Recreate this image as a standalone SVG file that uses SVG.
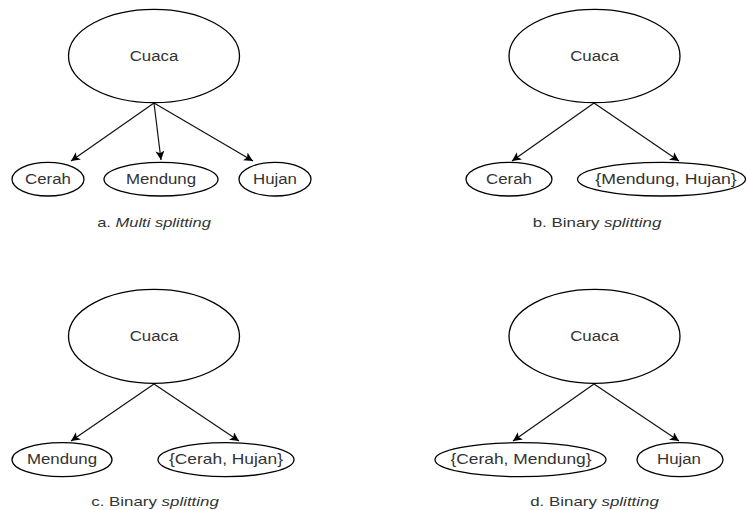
<svg xmlns="http://www.w3.org/2000/svg" width="746" height="510" viewBox="0 0 746 510">
  <defs>
    <marker id="arrow" viewBox="0 0 10 10" refX="10" refY="5" markerWidth="10" markerHeight="9" markerUnits="userSpaceOnUse" orient="auto">
      <path d="M0,0 L10,5 L0,10 L2.5,5 Z" fill="#000"/>
    </marker>
  </defs>
  <style>
    .node ellipse { fill: #fff; stroke: #000; stroke-width: 1.3; }
    .lbl { font-family: "Liberation Sans", Arial, sans-serif; font-size: 13.8px; fill: #333; text-anchor: middle; }
    .cap { font-family: "Liberation Sans", Arial, sans-serif; font-size: 13px; fill: #333; text-anchor: middle; }
    .it { font-style: italic; }
    .edges line { stroke: #111; stroke-width: 1.2; marker-end: url(#arrow); }
  </style>
  <rect width="746" height="510" fill="#fff"/>

  <!-- connectors -->
  <g class="edges" id="connectors">
    <line x1="154" y1="103" x2="71" y2="161"/>
    <line x1="154" y1="103" x2="161" y2="160"/>
    <line x1="154" y1="103" x2="253" y2="161"/>
    <line x1="594" y1="103" x2="512" y2="161"/>
    <line x1="594" y1="103" x2="679" y2="161"/>
    <line x1="154" y1="384" x2="71" y2="441"/>
    <line x1="154" y1="384" x2="239" y2="441"/>
    <line x1="594" y1="384" x2="513" y2="441"/>
    <line x1="594" y1="384" x2="679" y2="441"/>
  </g>

  <!-- a. multi splitting -->
  <g class="node" id="a-cuaca">
    <ellipse cx="154" cy="56" rx="85.5" ry="46.7"/>
    <text class="lbl" transform="matrix(1.22,0,0,1,154,60.5)">Cuaca</text>
  </g>
  <g class="node" id="a-cerah">
    <ellipse cx="48" cy="179.2" rx="36" ry="16.8"/>
    <text class="lbl" transform="matrix(1.22,0,0,1,48,184)">Cerah</text>
  </g>
  <g class="node" id="a-mendung">
    <ellipse cx="161" cy="179.2" rx="57" ry="16.8"/>
    <text class="lbl" transform="matrix(1.22,0,0,1,161,184)">Mendung</text>
  </g>
  <g class="node" id="a-hujan">
    <ellipse cx="275" cy="179.2" rx="36" ry="16.8"/>
    <text class="lbl" transform="matrix(1.22,0,0,1,275,184)">Hujan</text>
  </g>
  <text class="cap" transform="matrix(1.27,0,0,1,154,226.5)">a. <tspan class="it">Multi splitting</tspan></text>

  <!-- b. binary splitting -->
  <g class="node" id="b-cuaca">
    <ellipse cx="594.5" cy="56" rx="85.5" ry="46.7"/>
    <text class="lbl" transform="matrix(1.22,0,0,1,594.5,60.5)">Cuaca</text>
  </g>
  <g class="node" id="b-cerah">
    <ellipse cx="509" cy="179.2" rx="43" ry="16.8"/>
    <text class="lbl" transform="matrix(1.22,0,0,1,509,184)">Cerah</text>
  </g>
  <g class="node" id="b-mendung-hujan">
    <ellipse cx="661.5" cy="179.2" rx="84" ry="16.8"/>
    <text class="lbl" transform="matrix(1.28,0,0,1,666,184)">{Mendung, Hujan}</text>
  </g>
  <text class="cap" transform="matrix(1.3,0,0,1,597,226.5)">b. Binary <tspan class="it">splitting</tspan></text>

  <!-- c. binary splitting -->
  <g class="node" id="c-cuaca">
    <ellipse cx="154" cy="336.3" rx="85.5" ry="47"/>
    <text class="lbl" transform="matrix(1.22,0,0,1,154,341)">Cuaca</text>
  </g>
  <g class="node" id="c-mendung">
    <ellipse cx="62" cy="459.7" rx="50" ry="17"/>
    <text class="lbl" transform="matrix(1.22,0,0,1,62,464.3)">Mendung</text>
  </g>
  <g class="node" id="c-cerah-hujan">
    <ellipse cx="226" cy="459.7" rx="68" ry="17"/>
    <text class="lbl" transform="matrix(1.26,0,0,1,226,464.3)">{Cerah, Hujan}</text>
  </g>
  <text class="cap" transform="matrix(1.3,0,0,1,155,505.5)">c. Binary <tspan class="it">splitting</tspan></text>

  <!-- d. binary splitting -->
  <g class="node" id="d-cuaca">
    <ellipse cx="594.5" cy="336.3" rx="85.5" ry="47"/>
    <text class="lbl" transform="matrix(1.22,0,0,1,594.5,341)">Cuaca</text>
  </g>
  <g class="node" id="d-cerah-mendung">
    <ellipse cx="520.5" cy="459.7" rx="85.5" ry="17"/>
    <text class="lbl" transform="matrix(1.26,0,0,1,521,464.3)">{Cerah, Mendung}</text>
  </g>
  <g class="node" id="d-hujan">
    <ellipse cx="680" cy="459.7" rx="43" ry="17"/>
    <text class="lbl" transform="matrix(1.22,0,0,1,679,464.3)">Hujan</text>
  </g>
  <text class="cap" transform="matrix(1.3,0,0,1,594.5,505.5)">d. Binary <tspan class="it">splitting</tspan></text>
</svg>
